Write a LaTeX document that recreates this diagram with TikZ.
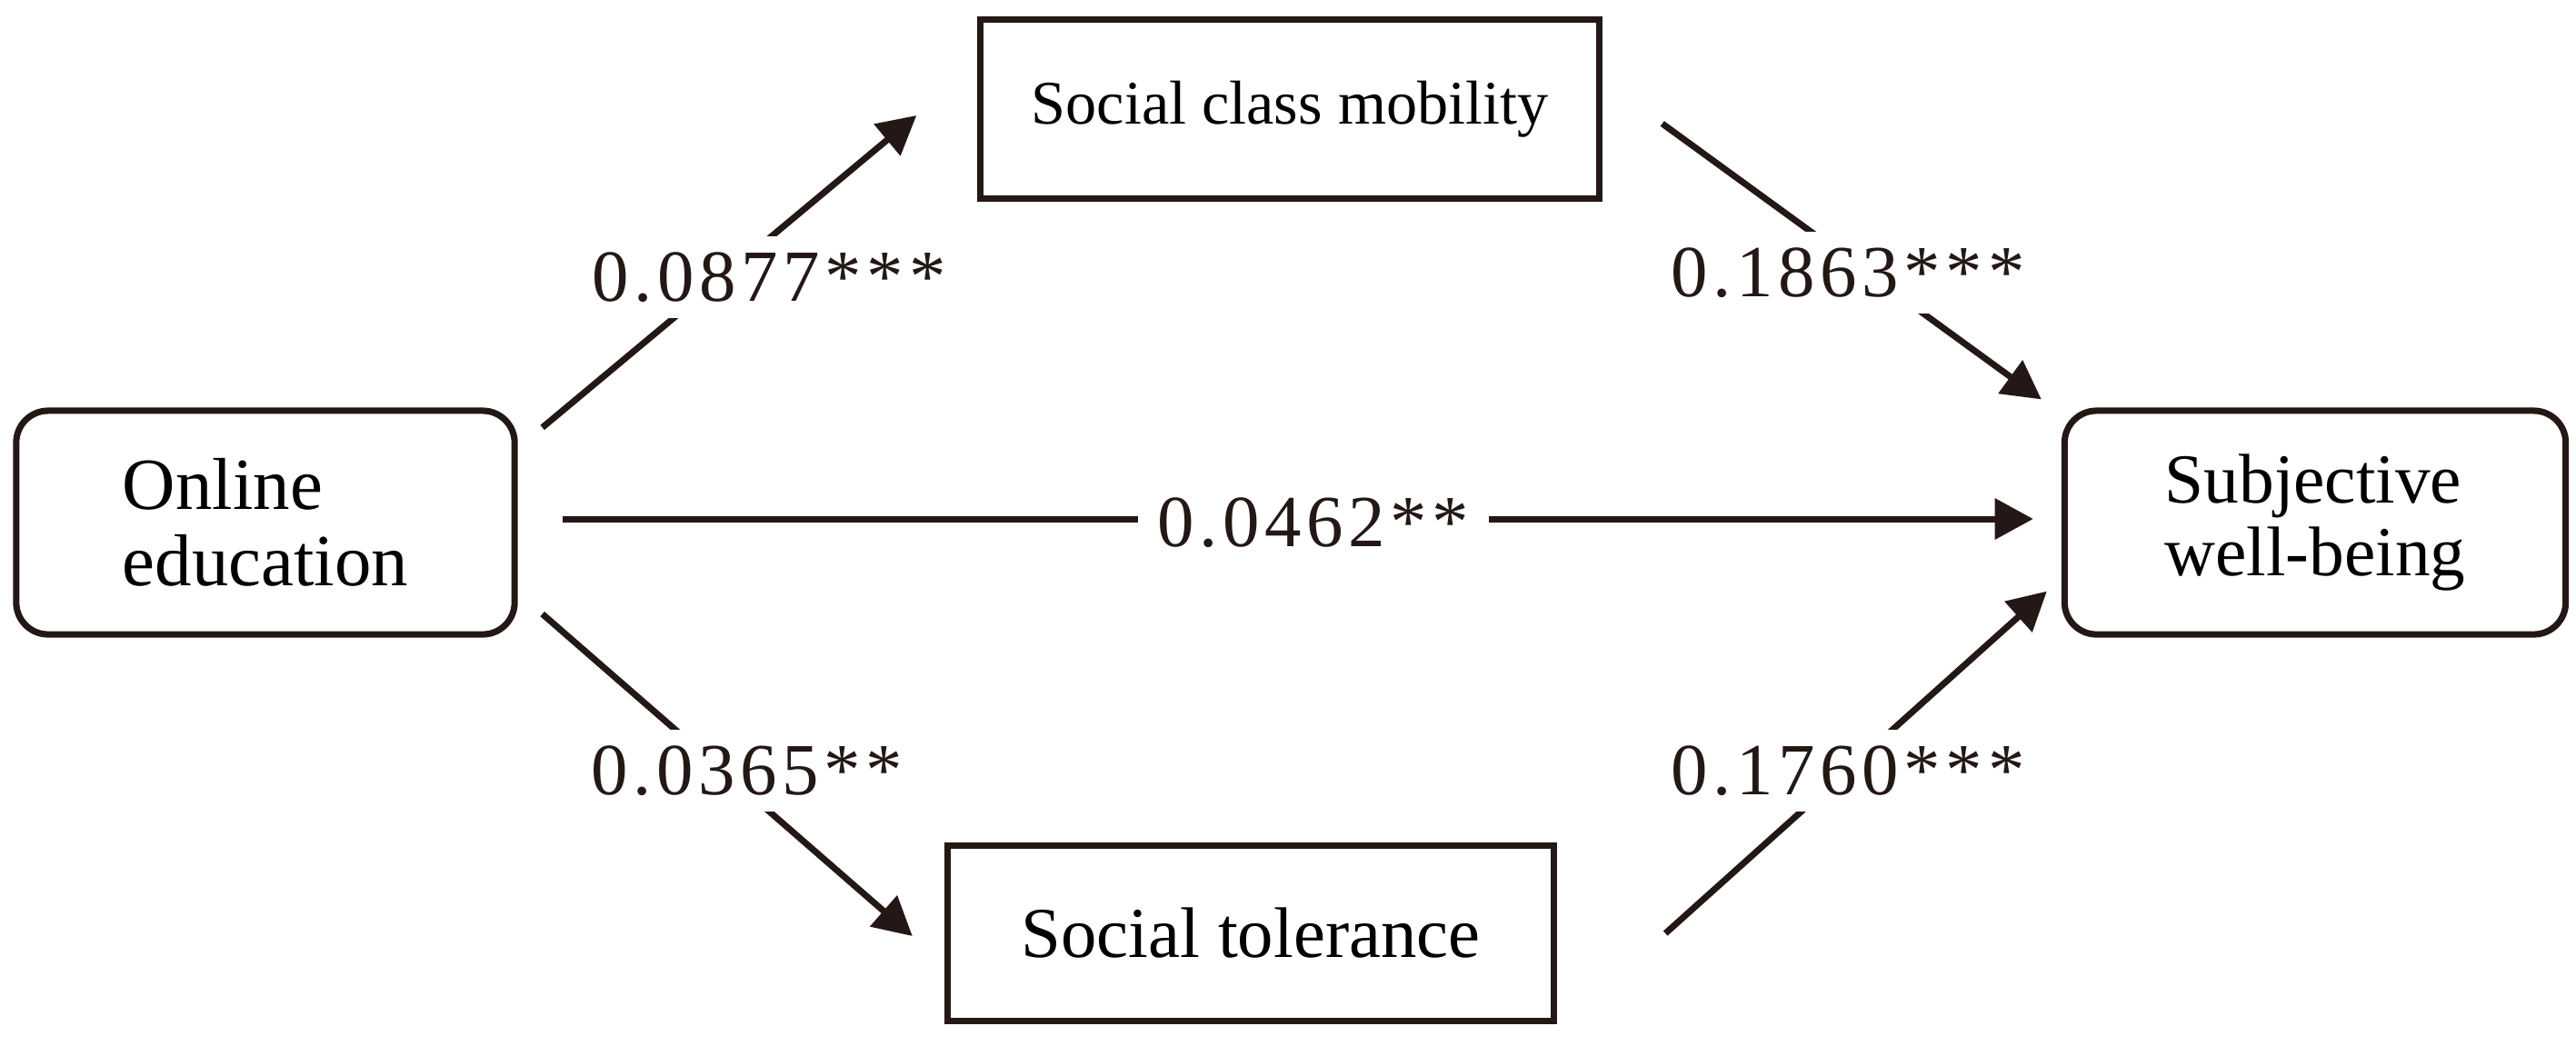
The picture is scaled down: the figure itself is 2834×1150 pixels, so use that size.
\documentclass[tikz,border=0pt]{standalone}
\usepackage{fontspec}
\setmainfont{Liberation Serif}
\newfontfamily\labfont[LetterSpace=7]{Liberation Serif}
\usetikzlibrary{arrows.meta}
\definecolor{ink}{HTML}{231815}
\begin{document}
\begin{tikzpicture}[x=0.01cm,y=-0.01cm,
  box/.style={draw=ink, line width=2pt, inner sep=0pt, align=left},
  rbox/.style={box, rounded corners=10pt},
  conn/.style={draw=ink, line width=2pt, -{Triangle[length=12pt,width=12.5pt]}},
  coef/.style={fill=white, inner xsep=6pt, inner ysep=5pt, font=\labfont\fontsize{23}{25}\selectfont, text=ink}]
\useasboundingbox (0,0) rectangle (2834,1150);
% nodes
\node[rbox, minimum width=5.48cm, minimum height=2.46cm, font=\fontsize{23}{24}\selectfont] (on) at (292,575) {Online\\education};
\node[box, minimum width=6.80cm, minimum height=1.97cm, font=\fontsize{19.4}{21}\selectfont] (scm) at (1419,120) {Social class mobility};
\node[box, minimum width=6.67cm, minimum height=1.93cm, font=\fontsize{22.4}{24}\selectfont] (stol) at (1376,1027) {Social tolerance};
\node[rbox, minimum width=5.51cm, minimum height=2.46cm, font=\fontsize{22}{23}\selectfont] (swb) at (2547,575) {Subjective\\well-being};
% connectors
\draw[conn] ([shift={(27,22)}]on.north east) -- ([shift={(-67,7)}]scm.west);
\draw[conn] ([shift={(66,16)}]scm.east) -- ([shift={(-22,-9)}]swb.north west);
\draw[conn] ([shift={(49,-4)}]on.east) -- ([shift={(-31,-4)}]swb.west);
\draw[conn] ([shift={(27,-26)}]on.south east) -- ([shift={(-35,3)}]stol.west);
\draw[conn] ([shift={(119,0)}]stol.east) -- ([shift={(-16,-51)}]swb.south west);
% coefficients
\node[coef] (c1) at (846,305) {0.0877***};
\node[coef] (c2) at (2033,300) {0.1863***};
\node[coef] (c3) at (1445,575) {0.0462**};
\node[coef] (c4) at (822,848) {0.0365**};
\node[coef] (c5) at (2033,848) {0.1760***};
\end{tikzpicture}
\end{document}
